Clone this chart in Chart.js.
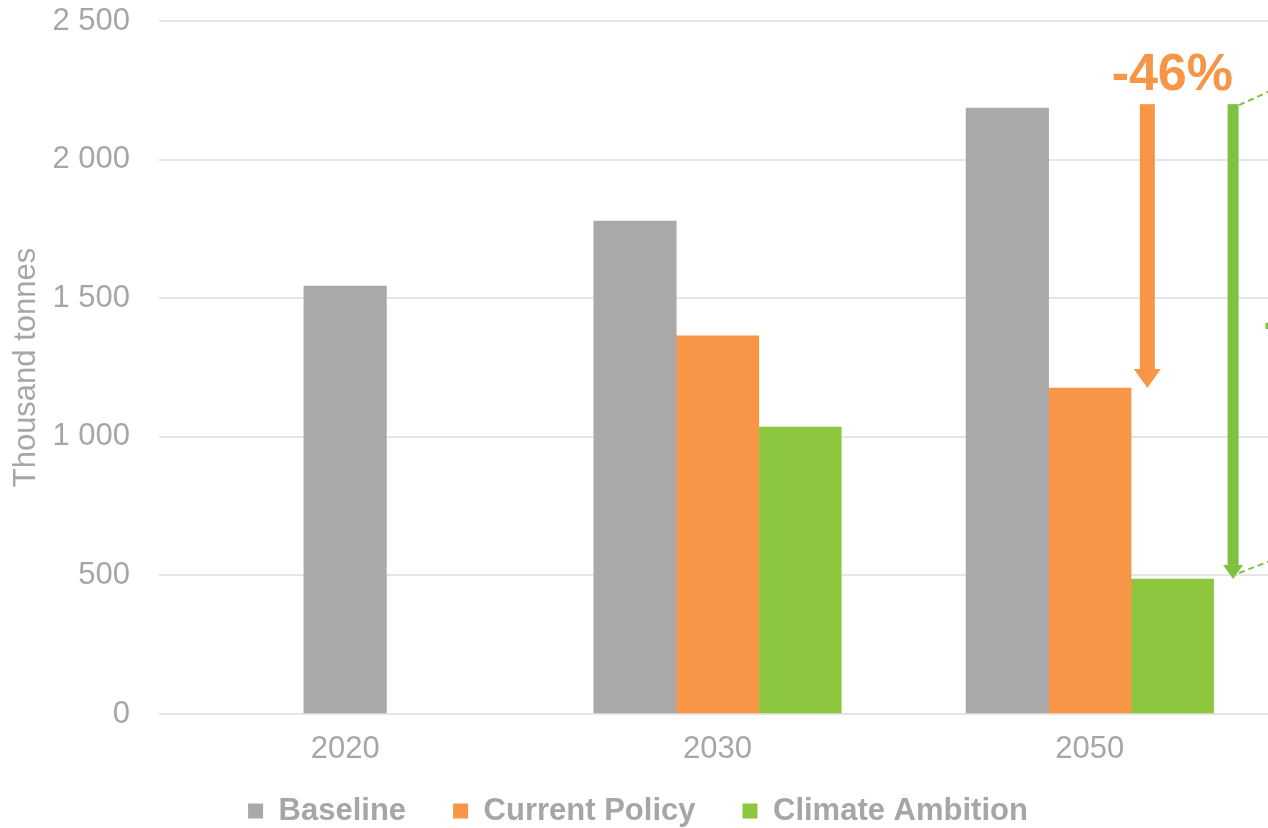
<!DOCTYPE html>
<html>
<head>
<meta charset="utf-8">
<script src="https://cdn.jsdelivr.net/npm/chart.js@4/dist/chart.umd.min.js"></script>
<style>
html, body { margin: 0; padding: 0; background: #ffffff; overflow: hidden; width: 1268px; height: 828px; }
#c { position: absolute; left: 0; top: 0; width: 1276px; height: 850px; }
</style>
</head>
<body>
<canvas id="c" width="1276" height="850"></canvas>
<script>
// ---- data ----
const categories = ['2020', '2030', '2050'];
const baseline = [1544, 1778, 2186];
const currentPolicy = [null, 1364, 1176];
const climateAmbition = [null, 1035, 487];
const yTickValues = [0, 500, 1000, 1500, 2000, 2500];
const arrowTopValue = [2200];
const seriesNames = ['Baseline', 'Current Policy', 'Climate Ambition'];

const GRAY = '#a9a9a9', ORANGE = '#f79646', GREEN = '#8dc63f', GREEN_DARK = '#7dc242';
const TEXT = '#a6a6a6';
const FONT = '"Liberation Sans", Arial, sans-serif';

function fmt(v) { return String(v).replace(/\B(?=(\d{3})+(?!\d))/g, ' '); }

function drawArrow(ctx, x, yTop, yTip, shaftW, headW, headLen, color) {
  ctx.fillStyle = color;
  ctx.fillRect(x - shaftW / 2, yTop, shaftW, (yTip - headLen) - yTop);
  ctx.beginPath();
  ctx.moveTo(x - headW / 2, yTip - headLen);
  ctx.lineTo(x + headW / 2, yTip - headLen);
  ctx.lineTo(x, yTip);
  ctx.closePath();
  ctx.fill();
}

const annotations = {
  id: 'annotations',
  afterLayout(chart) {
    // lift the legend a little closer to the axis labels
    if (chart.legend) { chart.legend.top -= 13.5; chart.legend.bottom -= 13.5; }
  },
  afterDatasetsDraw(chart) {
    const ctx = chart.ctx;
    const y = chart.scales.y;
    const last = categories.length - 1;
    const greenBar = chart.getDatasetMeta(2).data[last];
    const topPx = y.getPixelForValue(arrowTopValue[0]);
    const cpTip = y.getPixelForValue(currentPolicy[last]);
    const caTip = y.getPixelForValue(climateAmbition[last]);
    const ox = greenBar.x - 25;
    const gx = greenBar.x + greenBar.width / 2 + 19.5;
    ctx.save();
    drawArrow(ctx, ox, topPx, cpTip, 15, 27, 19, ORANGE);
    drawArrow(ctx, gx, topPx, caTip, 11, 20, 14, GREEN_DARK);

    ctx.strokeStyle = GREEN_DARK;
    ctx.lineWidth = 2;
    ctx.setLineDash([6, 4]);
    const L = 80;
    ctx.beginPath();
    ctx.moveTo(gx + 6, topPx + 1);
    ctx.lineTo(gx + 6 + L, topPx + 1 - L * 0.46);
    ctx.moveTo(gx + 6, caTip - 6);
    ctx.lineTo(gx + 6 + L, caTip - 6 - L * 0.39);
    ctx.stroke();
    ctx.setLineDash([]);

    const pctCP = Math.round((currentPolicy[last] / baseline[last] - 1) * 100);
    const pctCA = Math.round((climateAmbition[last] / baseline[last] - 1) * 100);
    ctx.font = 'bold 52px ' + FONT;
    ctx.textBaseline = 'alphabetic';
    ctx.textAlign = 'center';
    ctx.fillStyle = ORANGE;
    ctx.fillText(pctCP + '%', greenBar.x, topPx - 14);
    ctx.textAlign = 'left';
    ctx.fillStyle = GREEN_DARK;
    ctx.fillText(pctCA + '%', gx + 30.5, (topPx + caTip) / 2 - 2.5);
    ctx.restore();
  }
};

const barOpts = { barThickness: 82.5, skipNull: true, borderWidth: 0 };

new Chart(document.getElementById('c'), {
  type: 'bar',
  data: {
    labels: categories,
    datasets: [
      Object.assign({ label: seriesNames[0], data: baseline, backgroundColor: GRAY }, barOpts),
      Object.assign({ label: seriesNames[1], data: currentPolicy, backgroundColor: ORANGE }, barOpts),
      Object.assign({ label: seriesNames[2], data: climateAmbition, backgroundColor: GREEN }, barOpts)
    ]
  },
  options: {
    responsive: false,
    animation: false,
    layout: { padding: { top: 21, left: 0, right: 0, bottom: 0 } },
    plugins: {
      tooltip: { enabled: false },
      legend: {
        position: 'bottom',
        labels: {
          boxWidth: 15,
          boxHeight: 15,
          padding: 47,
          color: TEXT,
          font: { family: FONT, size: 31, weight: 'bold' }
        }
      }
    },
    scales: {
      x: {
        grid: { display: false, drawTicks: false },
        border: { display: false },
        ticks: { color: TEXT, padding: 17, font: { family: FONT, size: 31 } },
        afterFit(scale) { scale.height = 48; }
      },
      y: {
        min: yTickValues[0],
        max: yTickValues[yTickValues.length - 1],
        afterBuildTicks(scale) { scale.ticks = yTickValues.map(v => ({ value: v })); },
        grid: { color: '#e5e5e5', lineWidth: 2, drawTicks: false },
        border: { display: false },
        ticks: {
          color: TEXT,
          padding: 29,
          font: { family: FONT, size: 31 },
          callback: v => fmt(v)
        },
        title: {
          display: true,
          text: 'Thousand tonnes',
          color: TEXT,
          padding: { top: 8, bottom: 0 },
          font: { family: FONT, size: 31 }
        },
        afterFit(scale) {
          scale.width = 159;
          scale.paddingTop = 0;
          scale.paddingBottom = 0;
        }
      }
    }
  },
  plugins: [annotations]
});
</script>
</body>
</html>
